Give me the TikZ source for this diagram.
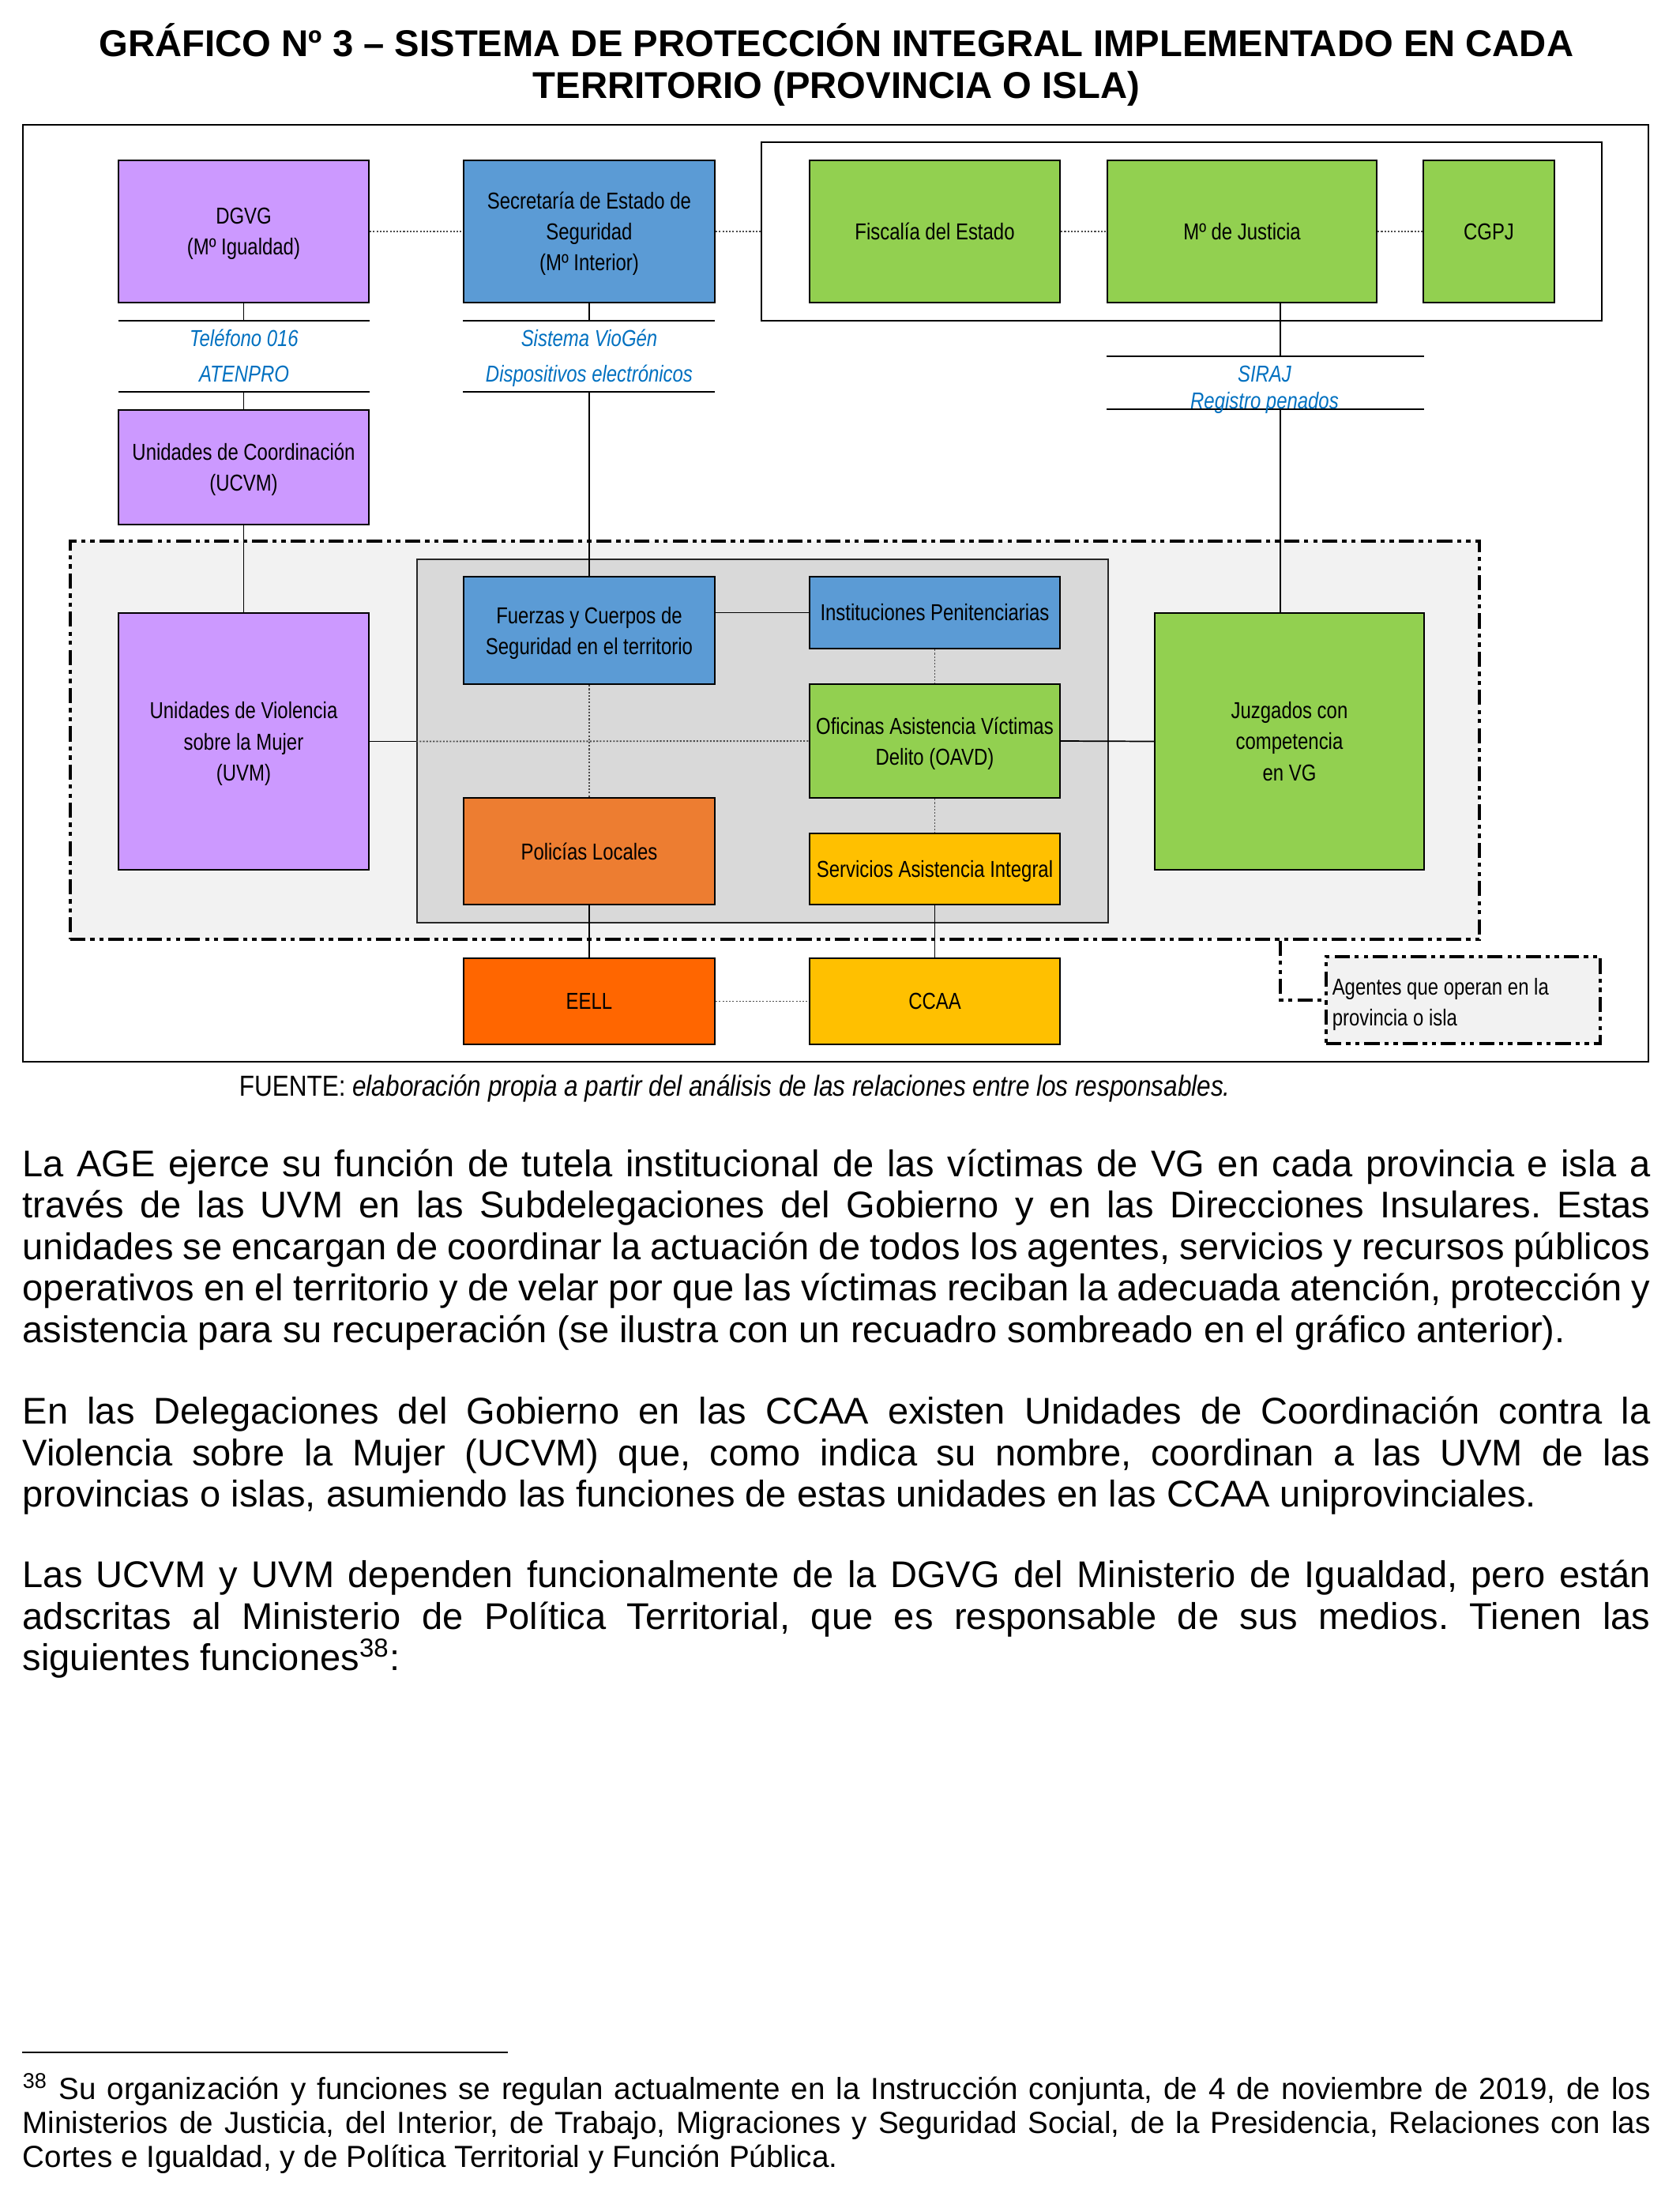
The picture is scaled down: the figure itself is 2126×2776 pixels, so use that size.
\documentclass[tikz,border=0pt]{standalone}
\usepackage{fontspec}
\setmainfont{Liberation Sans}
\newfontfamily\narrowfont[FakeStretch=0.82]{Liberation Sans}
\newfontfamily\fuentefont[FakeStretch=0.86]{Liberation Sans}
\definecolor{lila}{HTML}{CC99FF}
\definecolor{azul}{HTML}{5B9BD5}
\definecolor{verde}{HTML}{92D050}
\definecolor{naranja}{HTML}{ED7D31}
\definecolor{naranjo}{HTML}{FF6600}
\definecolor{amarillo}{HTML}{FFC000}
\definecolor{grisclaro}{HTML}{F2F2F2}
\definecolor{grismedio}{HTML}{D9D9D9}
\definecolor{azultexto}{HTML}{0070C0}
\newcommand\nodepth[1]{\smash{#1}\vphantom{A}}
\tikzset{
  box/.style={draw=black, line width=0.6pt, inner sep=0pt, align=center,
    font=\narrowfont\fontsize{7.6}{10.2}\selectfont},
  sz/.style 2 args={minimum width=#1*0.2604pt, minimum height=#2*0.2604pt},
  conn/.style={draw=black, line width=0.45pt},
  dotconn/.style={draw=black!70, line width=0.5pt, dash pattern=on 0.55pt off 0.55pt},
  bar/.style={draw=black, line width=0.6pt},
  dashdot/.style={line width=0.9pt, dash pattern=on 5pt off 1.6pt on 1.4pt off 1.6pt on 1.4pt off 1.6pt},
  bluelabel/.style={font=\narrowfont\itshape\fontsize{7.6}{9}\selectfont, text=azultexto, inner sep=0pt, anchor=base},
  titlefont/.style={font=\bfseries\fontsize{12.3}{13.8}\selectfont, inner sep=0pt},
  bodytext/.style={font=\fontsize{12.25}{13.67}\selectfont\frenchspacing, inner sep=0pt, anchor=base west,
    text width=2061*0.2604pt, align=justify},
  notetext/.style={font=\fontsize{10.05}{11.2}\selectfont\frenchspacing, inner sep=0pt, anchor=base west,
    text width=2061*0.2604pt, align=justify},
}
\begin{document}
\begin{tikzpicture}[x=0.2604pt,y=-0.2604pt]
\useasboundingbox (0,0) rectangle (2126,2776);
% title
\node[titlefont, anchor=base] (t1) at (1059,71) {GRÁFICO Nº 3 – SISTEMA DE PROTECCIÓN INTEGRAL IMPLEMENTADO EN CADA};
\node[titlefont, anchor=base] (t2) at (1059,124) {TERRITORIO (PROVINCIA O ISLA)};
% outer frame
\node[draw=black, line width=0.6pt, sz={2058}{1186}, inner sep=0pt] (frame) at (1058,751) {};
% shaded region and inner group
\node[draw=black, dashdot, fill=grisclaro, sz={1784}{504}, inner sep=0pt] (region) at (981,937) {};
\node[draw=black!85, line width=0.5pt, fill=grismedio, sz={875}{460}, inner sep=0pt] (inner) at (965.5,938) {};
% green group frame
\node[draw=black, line width=0.6pt, sz={1064}{226}, inner sep=0pt] (gframe) at (1496,293) {};
% top row
\node[box, fill=lila, sz={317}{180}] (dgvg) at (308.5,293) {DGVG\\\nodepth{(Mº Igualdad)}};
\node[box, fill=azul, sz={318}{180}] (seg) at (746,293) {Secretaría de Estado de\\Seguridad\\\nodepth{(Mº Interior)}};
\node[box, fill=verde, sz={317}{180}] (fisc) at (1183.5,293) {Fiscalía del Estado};
\node[box, fill=verde, sz={341}{180}] (just) at (1572.5,293) {Mº de Justicia};
\node[box, fill=verde, sz={166}{180}] (cgpj) at (1885,293) {CGPJ};
% label bars
\coordinate (telA) at (150,406); \coordinate (telB) at (468,406);
\coordinate (telC) at (150,496); \coordinate (telD) at (468,496);
\coordinate (vioA) at (586,406); \coordinate (vioB) at (905,406);
\coordinate (vioC) at (586,496); \coordinate (vioD) at (905,496);
\coordinate (sirA) at (1401,451); \coordinate (sirB) at (1803,451);
\coordinate (sirC) at (1401,518); \coordinate (sirD) at (1803,518);
\coordinate (jx) at (1621,0);
\draw[bar] (telA) -- (telB); \draw[bar] (telC) -- (telD);
\draw[bar] (vioA) -- (vioB); \draw[bar] (vioC) -- (vioD);
\draw[bar] (sirA) -- (sirB); \draw[bar] (sirC) -- (sirD);
\node[bluelabel] (tel1) at (309,438) {Teléfono 016};
\node[bluelabel] (tel2) at (309,483) {ATENPRO};
\node[bluelabel] (vio1) at (746,438) {Sistema VioGén};
\node[bluelabel] (vio2) at (746,483) {Dispositivos electrónicos};
\node[bluelabel] (sir1) at (1601,483) {SIRAJ};
\node[bluelabel] (sir2) at (1601,517) {Registro penados};
% UCVM
\node[box, fill=lila, sz={317}{145}] (ucvm) at (308.5,591.5) {Unidades de Coordinación\\\nodepth{(UCVM)}};
% region contents
\node[box, fill=lila, sz={317}{325}] (uvm) at (308.5,938.5) {Unidades de Violencia\\sobre la Mujer\\\nodepth{(UVM)}};
\node[box, fill=azul, sz={318}{136}] (fcs) at (746,798) {Fuerzas y Cuerpos de\\\nodepth{Seguridad en el territorio}};
\node[box, fill=azul, sz={317}{91}] (inst) at (1183.5,775.5) {Instituciones Penitenciarias};
\node[box, fill=verde, sz={317}{144}] (oavd) at (1183.5,938) {Oficinas Asistencia Víctimas\\\nodepth{Delito (OAVD)}};
\node[box, fill=amarillo, sz={317}{90}] (sai) at (1183.5,1100) {\nodepth{Servicios Asistencia Integral}};
\node[box, fill=naranja, sz={318}{135}] (pol) at (746,1077.5) {Policías Locales};
\node[box, fill=verde, sz={341}{325}] (juz) at (1632.5,938.5) {Juzgados con\\competencia\\en VG};
% bottom row
\node[box, fill=naranjo, sz={318}{109}] (eell) at (746,1267.5) {EELL};
\node[box, fill=amarillo, sz={317}{109}] (ccaa) at (1183.5,1267.5) {CCAA};
% legend
\node[draw=black, dashdot, fill=grisclaro, sz={347}{110}, inner sep=0pt] (leg) at (1852.5,1266) {};
\node[anchor=west, align=left, inner sep=0pt, font=\narrowfont\fontsize{7.6}{10.2}\selectfont] (legtext) at (1686,1268) {Agentes que operan en la\\\nodepth{provincia o isla}};
% connectors
\draw[dotconn] (dgvg.east) -- (seg.west);
\draw[dotconn] (seg.east) -- (gframe.west);
\draw[dotconn] (fisc.east) -- (just.west);
\draw[dotconn] (just.east) -- (cgpj.west);
\draw[conn] (dgvg.south) -- (dgvg.south |- telA);
\draw[conn] (dgvg.south |- telC) -- (ucvm.north);
\draw[conn] (seg.south) -- (seg.south |- vioA);
\draw[conn] (seg.south |- vioC) -- (fcs.north);
\draw[conn] (just.south -| jx) -- (jx |- sirA);
\draw[conn] (jx |- sirC) -- (jx |- juz.north);
\draw[conn] (ucvm.south) -- (uvm.north);
\draw[conn] (uvm.east) -- (uvm.east -| inner.west);
\draw[dotconn] (uvm.east -| inner.west) -- (oavd.west);
\draw[conn] (inst.west) -- (inst.west -| fcs.east);
\draw[dotconn] (fcs.south) -- (pol.north);
\draw[dotconn] (inst.south) -- (oavd.north);
\draw[dotconn] (oavd.south) -- (sai.north);
\draw[conn] (oavd.east) -- (juz.west);
\draw[conn] (sai.south) -- (ccaa.north);
\draw[conn] (pol.south) -- (eell.north);
\draw[dotconn] (eell.east) -- (ccaa.west);
\draw[dashdot] (region.south -| jx) -- (jx |- leg.west) -- (leg.west);
% source
\node[anchor=base west, inner sep=0pt, font=\fuentefont\fontsize{9.55}{11}\selectfont] (fuente) at (302,1387) {FUENTE: \textit{elaboración propia a partir del análisis de las relaciones entre los responsables.}};
% body
\node[bodytext] (p1) at (28,1489) {\hyphenpenalty=10000 La AGE ejerce su función de tutela institucional de las víctimas de VG en cada provincia e isla a\linebreak
través de las UVM en las Subdelegaciones del Gobierno y en las Direcciones Insulares. Estas\linebreak
unidades se encargan de coordinar la actuación de todos los agentes, servicios y recursos públicos\linebreak
operativos en el territorio y de velar por que las víctimas reciban la adecuada atención, protección y\linebreak
asistencia para su recuperación (se ilustra con un recuadro sombreado en el gráfico anterior).};
\node[bodytext] (p2) at (28,1802.6) {\hyphenpenalty=10000 En las Delegaciones del Gobierno en las CCAA existen Unidades de Coordinación contra la\linebreak
Violencia sobre la Mujer (UCVM) que, como indica su nombre, coordinan a las UVM de las\linebreak
provincias o islas, asumiendo las funciones de estas unidades en las CCAA uniprovinciales.};
\node[bodytext] (p3) at (28,2009.7) {\hyphenpenalty=10000 Las UCVM y UVM dependen funcionalmente de la DGVG del Ministerio de Igualdad, pero están\linebreak
adscritas al Ministerio de Política Territorial, que es responsable de sus medios. Tienen las\linebreak
siguientes funciones\textsuperscript{38}:};
% footnote
\coordinate (fnA) at (28,2598); \coordinate (fnB) at (643,2598);
\draw[line width=0.5pt] (fnA) -- (fnB);
\node[notetext] (fn) at (28,2657) {\hyphenpenalty=10000 \textsuperscript{38} Su organización y funciones se regulan actualmente en la Instrucción conjunta, de 4 de noviembre de 2019, de los\linebreak
Ministerios de Justicia, del Interior, de Trabajo, Migraciones y Seguridad Social, de la Presidencia, Relaciones con las\linebreak
Cortes e Igualdad, y de Política Territorial y Función Pública.};
\end{tikzpicture}
\end{document}
